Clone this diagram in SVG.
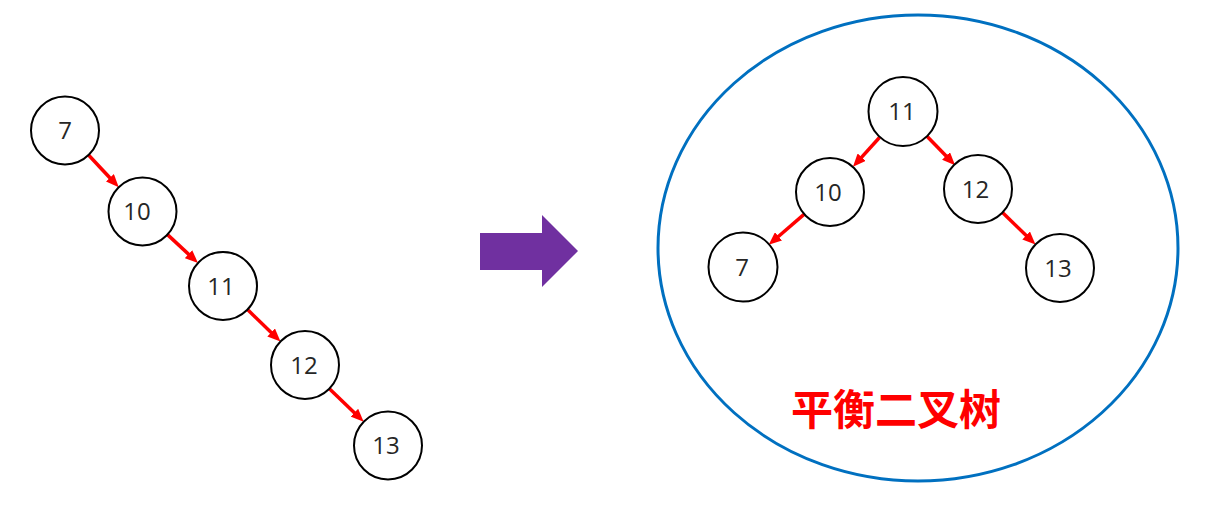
<svg xmlns="http://www.w3.org/2000/svg" width="1216" height="506" viewBox="0 0 1216 506">
<style>
.node circle{fill:#fff;stroke:#000;stroke-width:2}
.node text{font-family:"Open Sans","Noto Sans",sans-serif;font-size:24px;fill:#262626;text-anchor:middle}
.edge{stroke:#ff0000;stroke-width:3.5;fill:none;marker-end:url(#ah)}
.title{font-family:"Noto Sans CJK SC",sans-serif;font-size:42px;font-weight:bold;fill:#ff0000;text-anchor:middle}
</style>
<defs>
<marker id="ah" viewBox="0 0 13 11" refX="4" refY="5.5" markerWidth="13" markerHeight="11" markerUnits="userSpaceOnUse" orient="auto">
<path d="M0,0 L13,5.5 L0,11 z" fill="#ff0000"/>
</marker>
</defs>
<rect width="1216" height="506" fill="#fff"/>
<ellipse id="balanced-frame" cx="918" cy="248" rx="260" ry="233" fill="none" stroke="#0070C0" stroke-width="3"/>
<polygon id="transform-arrow" points="480,233 542,233 542,215 578,251 542,287 542,270 480,270" fill="#7030A0"/>
<g id="connectors">
<line class="edge" x1="88.5" y1="155" x2="112.6" y2="180.7"/>
<line class="edge" x1="167.5" y1="234.6" x2="191.4" y2="256.9"/>
<line class="edge" x1="247.5" y1="309.6" x2="274" y2="335.2"/>
<line class="edge" x1="329.4" y1="388.7" x2="357.2" y2="415.5"/>
<line class="edge" x1="879.5" y1="137.5" x2="859" y2="160.1"/>
<line class="edge" x1="926.7" y1="136" x2="948.8" y2="158.8"/>
<line class="edge" x1="804.3" y1="214.2" x2="775.5" y2="239"/>
<line class="edge" x1="1002.5" y1="212.6" x2="1029" y2="238.2"/>
</g>
<g id="L7" class="node"><circle cx="65" cy="130.5" r="34"/><text x="65" y="139">7</text></g>
<g id="L10" class="node"><circle cx="142.5" cy="211.5" r="34"/><text x="137" y="219.5">10</text></g>
<g id="L11" class="node"><circle cx="223" cy="286" r="34"/><text x="221" y="294.5">11</text></g>
<g id="L12" class="node"><circle cx="305" cy="365" r="34"/><text x="304" y="373.5">12</text></g>
<g id="L13" class="node"><circle cx="388" cy="445.5" r="34"/><text x="386" y="454">13</text></g>
<g id="R11" class="node"><circle cx="903" cy="111.5" r="34.5"/><text x="902" y="120">11</text></g>
<g id="R10" class="node"><circle cx="830" cy="192" r="34"/><text x="828" y="200.5">10</text></g>
<g id="R12" class="node"><circle cx="978" cy="189" r="34"/><text x="975.5" y="197.5">12</text></g>
<g id="R7" class="node"><circle cx="743" cy="267" r="34.5"/><text x="742" y="275.5">7</text></g>
<g id="R13" class="node"><circle cx="1060" cy="268" r="34"/><text x="1058" y="276.5">13</text></g>
<text class="title" x="896" y="425">平衡二叉树</text>
</svg>
